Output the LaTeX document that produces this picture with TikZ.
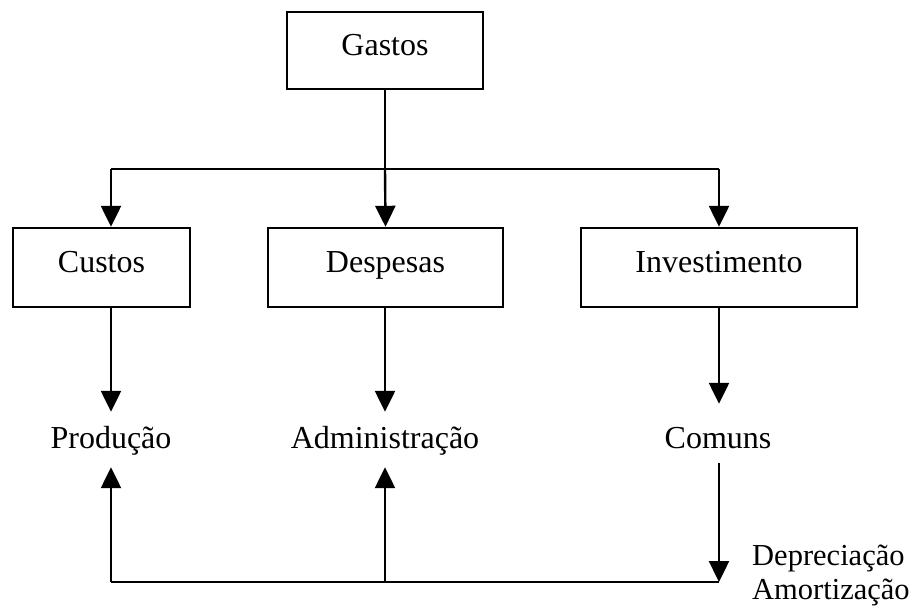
\documentclass[tikz,border=0pt]{standalone}
\usepackage{fontspec}
\setmainfont{Liberation Serif}
\usetikzlibrary{arrows.meta}
\begin{document}
\begin{tikzpicture}[x=1pt,y=-1pt,
  every node/.style={font=\fontsize{32}{34}\selectfont},
  box/.style={draw, line width=2.4pt, inner sep=0pt, text height=18pt, text depth=9pt},
  lbl/.style={inner sep=0pt, text height=22pt, text depth=8pt},
  conn/.style={line width=2.4pt},
  arr/.style={line width=2.4pt, -{Triangle[width=20pt,length=21pt]}}]
\useasboundingbox (0,0) rectangle (915,608);
\node[box, minimum width=196pt, minimum height=77pt] (gastos) at (385,50.5) {Gastos};
\node[box, minimum width=177pt, minimum height=79pt] (custos) at (101.5,267.5) {Custos};
\node[box, minimum width=235pt, minimum height=79pt] (despesas) at (385.5,267.5) {Despesas};
\node[box, minimum width=276pt, minimum height=79pt] (invest) at (719,267.5) {Investimento};
\node[lbl] (prod) at (111,441) {Produção};
\node[lbl] (adm) at (385,441) {Administração};
\node[lbl] (comuns) at (718,441) {Comuns};
\node[lbl, text height=, text depth=, anchor=west, align=left, font=\fontsize{30.5}{34}\selectfont] (dep) at (752,575) {Depreciação\\Amortização};
% top branching
\coordinate (j) at (385,169);
\coordinate (jl) at (111,169);
\coordinate (jr) at (719,169);
\draw[conn] (gastos.south) -- (j);
\draw[conn] (jl) -- (jr);
\draw[arr] (jl) -- (jl |- custos.north);
\draw[arr] (j) -- (despesas.north);
\draw[arr] (jr) -- (invest.north);
% down to labels
\draw[arr] (custos.south -| prod) -- ([yshift=14pt]prod.north);
\draw[arr] (despesas.south -| adm) -- ([yshift=14pt]adm.north);
\draw[arr] (invest.south) -- ([yshift=22pt]comuns.north -| invest.south);
% bottom loop
\coordinate (br) at (719,582);
\coordinate (bl) at (111,582);
\draw[arr] ([yshift=-7pt]comuns.south -| br) -- (br);
\draw[conn] (br) -- (bl);
\draw[arr] (bl) -- ([yshift=-11pt]prod.south);
\draw[arr] (br -| adm) -- ([yshift=-11pt]adm.south);
\end{tikzpicture}
\end{document}
